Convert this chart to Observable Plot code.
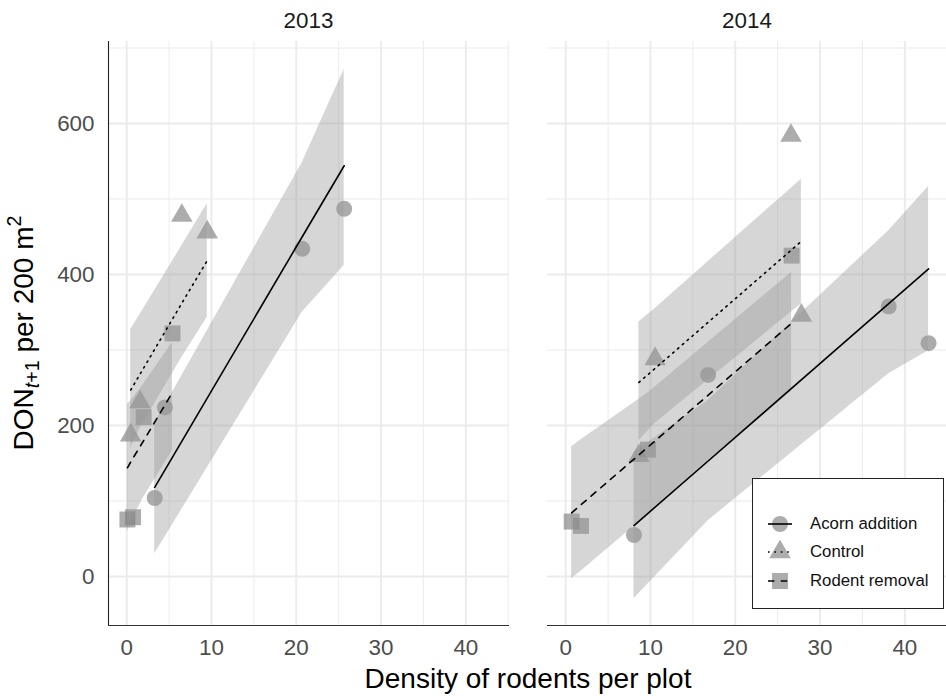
<!DOCTYPE html>
<html>
<head>
<meta charset="utf-8">
<script src="https://cdn.jsdelivr.net/npm/d3@7"></script>
<script src="https://cdn.jsdelivr.net/npm/@observablehq/plot@0.6"></script>
<style>
  html, body { margin: 0; padding: 0; background: #fff; overflow: hidden; }
  #chart { position: relative; width: 946px; height: 696px; font-family: "Liberation Sans", Arial, Helvetica, sans-serif; overflow: hidden; }
  .panel { position: absolute; top: 0; }
  .panel text { font-size: 22.4px; fill: #4d4d4d; }
  #overlay { position: absolute; left: 0; top: 0; pointer-events: none; }
  #legend { position: absolute; left: 752px; top: 478px; width: 190px; height: 129px; border: 1px solid #222; background: #fff; }
  .entry { position: absolute; left: 15px; height: 24px; display: flex; align-items: center; font-size: 16.8px; color: #111; }
  .entry svg { margin-right: 18px; }
</style>
</head>
<body>
<div id="chart"></div>
<script>
// ---------- data ----------
const years = ["2013", "2014"];
const treatments = ["Acorn addition", "Control", "Rodent removal"];
// row order: 4 Acorn addition, 4 Control, 4 Rodent removal (ascending density inside each)
const treatmentOfRow = ["Acorn addition","Acorn addition","Acorn addition","Acorn addition",
                        "Control","Control","Control","Control",
                        "Rodent removal","Rodent removal","Rodent removal","Rodent removal"];

// 2013
const density2013 = [3.3, 4.5, 20.7, 25.65,   0.47, 1.57, 6.5, 9.5,   0.08, 0.75, 2.0, 5.4];
const don2013     = [104, 224, 434, 487,      187, 231, 478, 456,     75.5, 78.5, 211, 322];
const fit2013     = [118, 141, 450, 544,      247, 268, 362, 418.5,   144, 157, 180, 244];
const lower2013   = [30, 52, 350, 412,        170, 196, 290, 343.5,   60, 78, 105, 167];
const upper2013   = [204, 226, 548, 672,      327, 347, 438, 493.6,   228, 236, 255, 310];

// 2014
const density2014 = [8.05, 16.8, 38.1, 42.8,  8.63, 10.55, 26.57, 27.8,  0.7, 1.8, 9.7, 26.65];
const don2014     = [55, 267, 357.6, 309,     160, 288, 584, 345.7,      72.8, 67, 168, 425];
const fit2014     = [67.5, 153, 361.4, 407.5, 257, 275.7, 432, 444,      84.3, 95, 171.4, 335.5];
const lower2014   = [-29.5, 74, 268.5, 299,   180, 203, 350, 361,        -3, 7, 82, 246];
const upper2014   = [164.5, 233, 458, 516.6,  337, 355, 514, 526,        172, 181, 243, 403];

// axis ticks
const xMajor = [0, 10, 20, 30, 40];
const xMinor = [5, 15, 25, 35, 45];
const yMajor = [0, 200, 400, 600];
const yMinor = [100, 300, 500, 700];

// ---------- build tables ----------
function rowsFor(density, don, fit, lower, upper) {
  return density.map((d, i) => ({
    treatment: treatmentOfRow[i], density: d, don: don[i], fit: fit[i], lower: lower[i], upper: upper[i]
  }));
}
const rowsByYear = {
  "2013": rowsFor(density2013, don2013, fit2013, lower2013, upper2013),
  "2014": rowsFor(density2014, don2014, fit2014, lower2014, upper2014)
};

const xDomain = [-2.15, 45.15];
const yDomain = [-64.9, 708.6];
const dashes = {"Acorn addition": null, "Control": "1.6,4.8", "Rodent removal": "6.4,6.4"};
const symbols = {"Acorn addition": "circle", "Control": "triangle", "Rodent removal": "square"};
const radius = {"Acorn addition": 8, "Control": 8, "Rodent removal": 9};
const pointFill = "#808080", pointOpacity = 0.65;

function panel(year, showY) {
  const rows = rowsByYear[year];
  const marginLeft = showY ? 108 : 0;
  const marks = [
    Plot.ruleX(xMinor, {stroke: "#ebebeb", strokeWidth: 0.95}),
    Plot.ruleY(yMinor, {stroke: "#ebebeb", strokeWidth: 0.95}),
    Plot.ruleX(xMajor, {stroke: "#ebebeb", strokeWidth: 1.9}),
    Plot.ruleY(yMajor, {stroke: "#ebebeb", strokeWidth: 1.9})
  ];
  for (const t of treatments) {
    marks.push(Plot.dot(rows, {filter: d => d.treatment === t, x: "density", y: "don",
      symbol: symbols[t], r: radius[t], fill: pointFill, fillOpacity: pointOpacity, stroke: "none"}));
  }
  for (const t of treatments) {
    marks.push(Plot.areaY(rows, {filter: d => d.treatment === t, x: "density", y1: "lower", y2: "upper",
      fill: "#999999", fillOpacity: 0.4}));
  }
  for (const t of treatments) {
    const opts = {filter: d => d.treatment === t, x: "density", y: "fit", stroke: "#000", strokeWidth: 1.6};
    if (dashes[t]) opts.strokeDasharray = dashes[t];
    marks.push(Plot.line(rows, opts));
  }
  marks.push(Plot.ruleY([yDomain[0]], {stroke: "#333", strokeWidth: 1.1}));
  if (showY) marks.push(Plot.ruleX([xDomain[0]], {stroke: "#222", strokeWidth: 1.1}));
  return Plot.plot({
    width: marginLeft + 401,
    height: 696,
    marginLeft, marginRight: 0, marginTop: 41, marginBottom: 71,
    x: {domain: xDomain, ticks: xMajor, tickSize: 0, tickPadding: 14, label: null},
    y: showY ? {domain: yDomain, ticks: yMajor, tickSize: 0, tickPadding: 14, label: null}
             : {domain: yDomain, axis: null},
    style: {fontFamily: '"Liberation Sans", Arial, Helvetica, sans-serif', fontSize: "22.4px", color: "#4d4d4d", background: "transparent", overflow: "visible"},
    marks
  });
}

const chart = document.getElementById("chart");
const left = panel("2013", true);
left.classList.add("panel");
left.style.left = "0px";
chart.appendChild(left);
const right = panel("2014", false);
right.classList.add("panel");
right.style.left = "546.7px";
chart.appendChild(right);

// ---------- titles (real text) ----------
const ns = "http://www.w3.org/2000/svg";
const overlay = document.createElementNS(ns, "svg");
overlay.setAttribute("id", "overlay");
overlay.setAttribute("width", 946);
overlay.setAttribute("height", 696);
overlay.setAttribute("font-family", '"Liberation Sans", Arial, Helvetica, sans-serif');
overlay.innerHTML = `
  <text x="308.5" y="28" text-anchor="middle" font-size="22.4" fill="#1a1a1a">${years[0]}</text>
  <text x="747" y="28" text-anchor="middle" font-size="22.4" fill="#1a1a1a">${years[1]}</text>
  <text x="528" y="688" text-anchor="middle" font-size="28" fill="#000">Density of rodents per plot</text>
  <text transform="translate(33,333) rotate(-90)" text-anchor="middle" font-size="28" fill="#000">DON<tspan font-size="19.6" dy="6" font-style="italic">t</tspan><tspan font-size="19.6">+1</tspan><tspan font-size="28" dy="-6"> per 200 m</tspan><tspan font-size="19.6" dy="-12">2</tspan></text>`;
chart.appendChild(overlay);

// ---------- legend ----------
const legend = document.createElement("div");
legend.id = "legend";
const triPath = d3.symbol().type(d3.symbolTriangle).size(Math.PI * 64)();
const sqPath = d3.symbol().type(d3.symbolSquare).size(Math.PI * 81)();
const glyph = {
  "Acorn addition": `<circle cx="12" cy="12" r="8" fill="${pointFill}" fill-opacity="${pointOpacity}"/>`,
  "Control": `<path transform="translate(12,12)" d="${triPath}" fill="${pointFill}" fill-opacity="${pointOpacity}"/>`,
  "Rodent removal": `<path transform="translate(12,12)" d="${sqPath}" fill="${pointFill}" fill-opacity="${pointOpacity}"/>`
};
treatments.forEach((t, i) => {
  const e = document.createElement("div");
  e.className = "entry";
  e.style.top = (32.7 + i * 28.7) + "px";
  const da = dashes[t] ? `stroke-dasharray="${dashes[t]}"` : "";
  e.innerHTML = `<svg width="24" height="24">${glyph[t]}<line x1="0" x2="24" y1="12" y2="12" stroke="#000" stroke-width="1.6" ${da}/></svg><span>${t}</span>`;
  legend.appendChild(e);
});
chart.appendChild(legend);
</script>
</body>
</html>
